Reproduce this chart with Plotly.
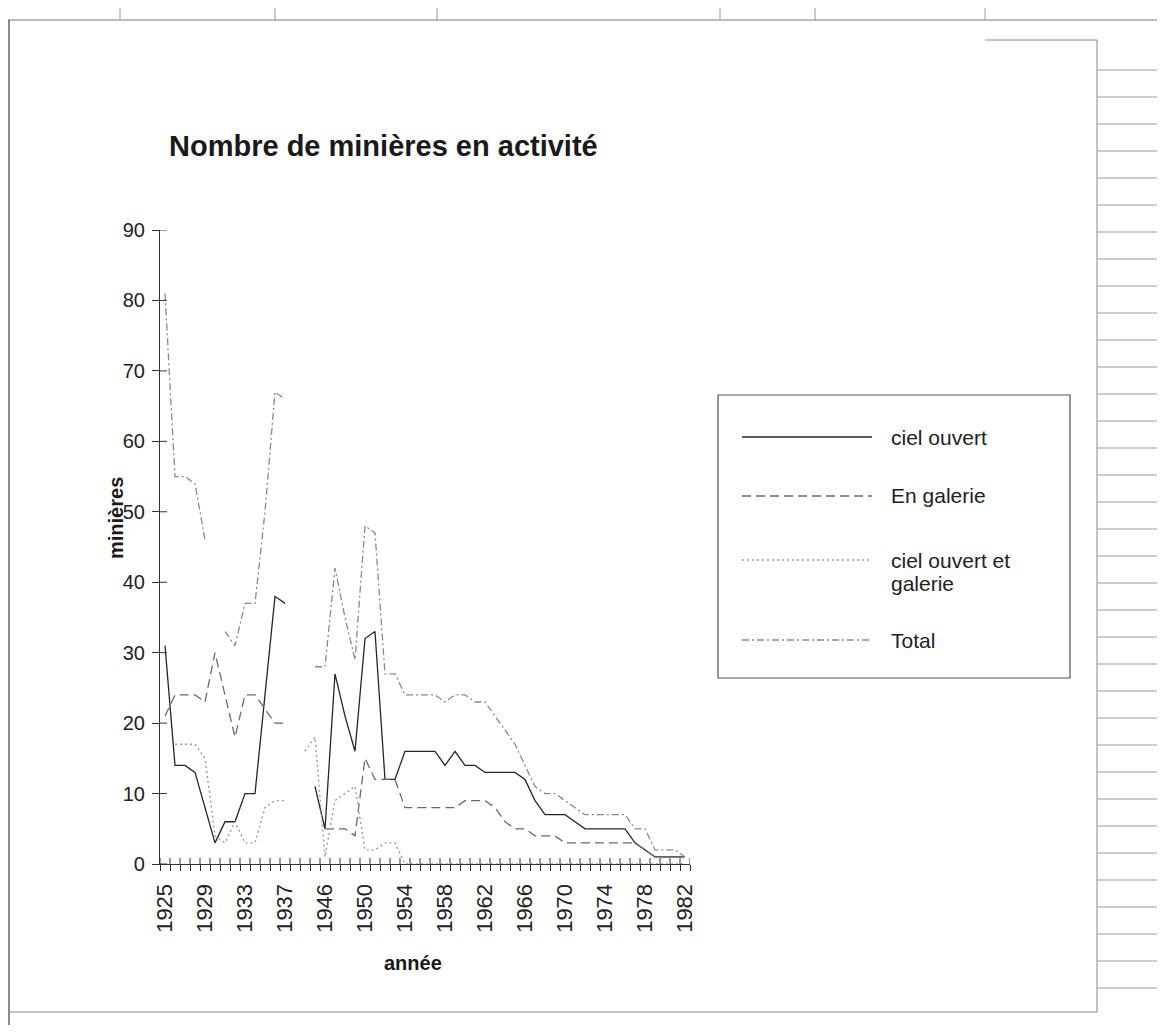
import plotly.graph_objects as go

# ---------------- data ----------------
years = ["1925", "1926", "1927", "1928", "1929", "1930", "1931", "1932", "1933",
         "1934", "1935", "1936", "1937", "1938", "1944", "1945",
         "1946", "1947", "1948", "1949", "1950", "1951", "1952", "1953", "1954",
         "1955", "1956", "1957", "1958", "1959", "1960", "1961", "1962", "1963",
         "1964", "1965", "1966", "1967", "1968", "1969", "1970", "1971", "1972",
         "1973", "1974", "1975", "1976", "1977", "1978", "1979", "1980", "1981",
         "1982"]

ciel_ouvert = [31, 14, 14, 13, 8, 3, 6, 6, 10, 10, 24, 38, 37,
               None, None, 11,
               5, 27, 21, 16, 32, 33, 12, 12, 16, 16, 16, 16, 14, 16, 14, 14, 13, 13,
               13, 13, 12, 9, 7, 7, 7, 6, 5, 5, 5, 5, 5, 3, 2, 1, 1, 1, 1]

en_galerie = [21, 24, 24, 24, 23, 30, 24, 18, 24, 24, 22, 20, 20,
              None, None, None,
              5, 5, 5, 4, 15, 12, 12, 12, 8, 8, 8, 8, 8, 8, 9, 9, 9, 8,
              6, 5, 5, 4, 4, 4, 3, 3, 3, 3, 3, 3, 3, 3, 2, 1, 1, 1, 1]

ciel_et_galerie = [None, 17, 17, 17, 15, 4, 3, 6, 3, 3, 8, 9, 9,
                   None, 16, 18,
                   1, 9, 10, 11, 2, 2, 3, 3, 0, 0, 0, 0, 0, 0, 0, 0, 0, 0,
                   0, 0, 0, 0, 0, 0, 0, 0, 0, 0, 0, 0, 0, 0, 0, 0, 0, 0, 0]

total = [81, 55, 55, 54, 46, None, 33, 31, 37, 37, 50, 67, 66,
         None, None, 28,
         28, 42, 35, 29, 48, 47, 27, 27, 24, 24, 24, 24, 23, 24, 24, 23, 23, 21,
         19, 17, 14, 11, 10, 10, 9, 8, 7, 7, 7, 7, 7, 5, 5, 2, 2, 2, 1]

series_names = ["ciel ouvert", "En galerie", "ciel ouvert et\ngalerie", "Total"]
y_ticks = [0, 10, 20, 30, 40, 50, 60, 70, 80, 90]

# ---------------- geometry (page pixels) ----------------
W, H = 1165, 1033
BODY = 8                      # default body margin of the html page
PX0, PX1, PY0, PY1 = 160, 690, 230, 864   # plot area in page pixels

def fx(px):
    return (px - PX0) / (PX1 - PX0)

def fy(py):
    return (PY1 - py) / (PY1 - PY0)

FONT = "Liberation Sans, Arial, Helvetica, sans-serif"
idx = list(range(len(years)))

styles = [
    dict(color="#262626", width=1.3, dash="solid"),
    dict(color="#6a6a6a", width=1.3, dash="9px,5px"),
    dict(color="#9a9a9a", width=1.4, dash="2px,3px"),
    dict(color="#8a8a8a", width=1.3, dash="7px,3px,2px,3px"),
]
data_series = [ciel_ouvert, en_galerie, ciel_et_galerie, total]

fig = go.Figure()
for name, vals, st in zip(series_names, data_series, styles):
    fig.add_trace(go.Scatter(x=idx, y=vals, mode="lines", name=name.replace("\n", " "),
                             line=st, connectgaps=False, showlegend=False,
                             hoverinfo="skip"))

axis_col = "#333333"
fig.update_layout(
    width=W - 2 * BODY, height=H - 2 * BODY, autosize=False,
    margin=dict(l=PX0 - BODY, r=(W - 2 * BODY) - (PX1 - BODY),
                t=PY0 - BODY, b=(H - 2 * BODY) - (PY1 - BODY), pad=0),
    paper_bgcolor="white", plot_bgcolor="white",
    font=dict(family=FONT, size=18, color="#222"),
    xaxis=dict(range=[-0.5, len(years) - 0.5], tickmode="array",
               tickvals=idx[::4], ticktext=years[::4], tickangle=-90,
               ticks="", showgrid=False, zeroline=False,
               showline=True, linecolor=axis_col, linewidth=1.2,
               ticklabelstandoff=10,
               tickfont=dict(size=22, family=FONT, color="#222"),
               minor=dict(tickmode="linear", tick0=-0.5, dtick=1, ticks="outside",
                          ticklen=6, tickcolor=axis_col, tickwidth=1, showgrid=False)),
    yaxis=dict(range=[0, 90], tickmode="array", tickvals=y_ticks,
               ticks="outside", ticklen=7, tickcolor=axis_col, tickwidth=1,
               showgrid=False, zeroline=False, showline=True, linecolor=axis_col,
               linewidth=1.2, ticklabelstandoff=3,
               tickfont=dict(size=20, family=FONT, color="#222")),
)

ann = []
# title
ann.append(dict(text="<b>Nombre de minières en activité</b>", x=fx(383), y=fy(146),
                xref="paper", yref="paper", showarrow=False, xanchor="center",
                yanchor="middle", font=dict(size=29, family=FONT, color="#1a1a1a")))
# axis titles
ann.append(dict(text="<b>minières</b>", x=fx(116), y=fy(518), xref="paper",
                yref="paper", showarrow=False, textangle=-90, xanchor="center",
                yanchor="middle", font=dict(size=20, family=FONT, color="#1a1a1a")))
ann.append(dict(text="<b>année</b>", x=fx(413), y=fy(963), xref="paper",
                yref="paper", showarrow=False, xanchor="center", yanchor="middle",
                font=dict(size=20, family=FONT, color="#1a1a1a")))

shapes = []
# inner half of the cross-shaped tick marks (Excel "cross" ticks)
for i in range(len(years) + 1):
    shapes.append(dict(type="line", xref="x", yref="paper", x0=i - 0.5, x1=i - 0.5,
                       y0=0, y1=6 / (PY1 - PY0), line=dict(color=axis_col, width=1)))
for v in y_ticks:
    shapes.append(dict(type="line", xref="paper", yref="y", x0=0, x1=7 / (PX1 - PX0),
                       y0=v, y1=v, line=dict(color=axis_col, width=1)))

# legend box
shapes.append(dict(type="rect", xref="paper", yref="paper", x0=fx(718), x1=fx(1070),
                   y0=fy(678), y1=fy(395), line=dict(color="#555", width=1.2)))
leg_rows = [437, 496, 560, 640]
for name, st, ry in zip(series_names, styles, leg_rows):
    shapes.append(dict(type="line", xref="paper", yref="paper", x0=fx(742), x1=fx(872),
                       y0=fy(ry), y1=fy(ry), line=st))
    for k, part in enumerate(name.split("\n")):
        ann.append(dict(text=part, x=fx(889), y=fy(ry + 23 * k), xref="paper",
                        yref="paper", showarrow=False, xanchor="left",
                        yanchor="middle", align="left",
                        font=dict(size=21, family=FONT, color="#222")))

# scanned sheet frame / spreadsheet grid lines
grid_col = "#9a9a9a"
def hline(x0, x1, y, col=grid_col, w=1):
    shapes.append(dict(type="line", xref="paper", yref="paper", x0=fx(x0), x1=fx(x1),
                       y0=fy(y), y1=fy(y), line=dict(color=col, width=w)))
def vline(x, y0, y1, col=grid_col, w=1):
    shapes.append(dict(type="line", xref="paper", yref="paper", x0=fx(x), x1=fx(x),
                       y0=fy(y0), y1=fy(y1), line=dict(color=col, width=w)))

hline(8, 1165, 20, "#777")
for cx in [120, 275, 437, 720, 815, 985]:
    vline(cx, 8, 20)
vline(9, 20, 1025, "#666", 1.5)
vline(1097, 40, 1012, "#888")
hline(985, 1097, 40, "#888")
hline(9, 1097, 1012, "#888")
for ry in range(70, 1010, 27):
    hline(1097, 1165, ry)

fig.update_layout(annotations=ann, shapes=shapes)
fig.write_html("out.html")
